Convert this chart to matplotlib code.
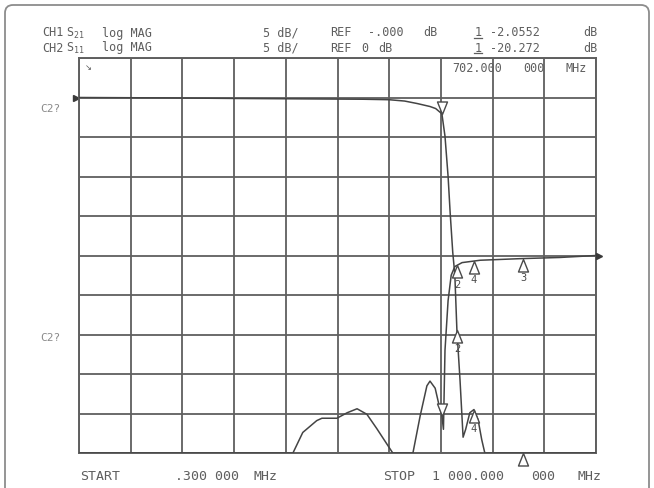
import numpy as np
import matplotlib
matplotlib.use("Agg")
import matplotlib.pyplot as plt
from matplotlib.path import Path
from matplotlib.patches import FancyBboxPatch
from matplotlib.lines import Line2D
import matplotlib.transforms as mtransforms

plt.rcParams['font.family'] = ['DejaVu Sans Mono', 'DejaVu Sans']
plt.rcParams['mathtext.fontset'] = 'custom'
plt.rcParams['mathtext.rm'] = 'DejaVu Sans Mono'
plt.rcParams['mathtext.it'] = 'DejaVu Sans Mono'
plt.rcParams['mathtext.bf'] = 'DejaVu Sans Mono'

# ---------------- data ----------------
start_mhz = 0.3
stop_mhz = 1000.0
db_per_div = 5
s21_ref_db = 0.0     # reference line 1 division below top
s11_ref_db = 0.0     # reference line at centre

s21_freq = [0.3, 170, 300, 450, 550, 600, 630, 654, 679, 690, 702, 708, 714, 718,
            723, 727, 731, 737, 743, 748, 756, 764, 772, 779, 785, 795, 850, 1000]
s21_db = [0.0, -0.05, -0.12, -0.18, -0.22, -0.28, -0.45, -0.76, -1.14, -1.4, -2.06,
          -4.9, -10.0, -14.6, -19.6, -22.4, -29.4, -35.7, -43.0, -42.0, -39.9, -39.5,
          -40.8, -43.3, -45.0, -48.0, -52.0, -55.0]

s11_freq = [0.3, 100, 200, 300, 400, 414, 433, 460, 470, 499, 519, 538, 557, 576,
            596, 607, 625, 646, 660, 673, 679, 689, 696, 702, 705, 708, 714, 720,
            727, 741, 776, 853, 930, 1000]
s11_db = [-30, -32, -33, -31, -27, -25.2, -22.4, -20.9, -20.6, -20.6, -19.9, -19.4,
          -20.1, -21.9, -23.9, -25.2, -27, -25.2, -20.3, -16.5, -15.9, -16.8, -18.8,
          -20.27, -22.0, -12.0, -5.7, -2.5, -1.4, -0.9, -0.6, -0.4, -0.25, 0.0]

marker_freq = [702, 731, 764, 859]
marker_names = ['1', '2', '4', '3']

hdr1 = ["CH1", r"S$_{21}$", "log MAG", "5 dB/", "REF", "-.000", "dB", "-2.0552", "dB"]
hdr2 = ["CH2", r"S$_{11}$", "log MAG", "5 dB/", "REF", "0", "dB", "-20.272", "dB"]
marker_readout = ["702.000", "000", "MHz"]
start_label = ["START", ".300 000", "MHz"]
stop_label = ["STOP", "1 000.000", "000", "MHz"]
side_label = "C2?"

# ---------------- style ----------------
W, H = 654, 489
grid_c = '#5f5f5f'
trace_c = '#444444'
text_c = '#5e5e5e'
fs = 8.5

fig = plt.figure(figsize=(W / 100, H / 100), dpi=100)
fig.patch.set_facecolor('white')

def px(x, y):
    return x / W, 1 - y / H

# outer rounded frame
frame = FancyBboxPatch((0.05, -0.2), 6.44, 5.03,
                       boxstyle="round,pad=0,rounding_size=0.08",
                       transform=fig.dpi_scale_trans, fill=False,
                       edgecolor='#8c8c8c', lw=1.3)
fig.patches.append(frame)

L, T, R, B = 79, 59, 596, 454
ax = fig.add_axes([L / W, 1 - B / H, (R - L) / W, (B - T) / H])
ax.set_xlim(start_mhz, stop_mhz)
s21_top = s21_ref_db + 1 * db_per_div
s21_bot = s21_top - 10 * db_per_div
ax.set_ylim(s21_bot, s21_top)
ax.set_xticks(np.linspace(start_mhz, stop_mhz, 11))
ax.set_yticks(np.linspace(s21_bot, s21_top, 11))
ax.tick_params(length=0, labelbottom=False, labelleft=False)
ax.grid(True, color=grid_c, lw=1.3)
for sp in ax.spines.values():
    sp.set_color(grid_c)
    sp.set_linewidth(1.4)
ax.set_axisbelow(True)

ax2 = ax.twinx()
s11_top = s11_ref_db + 5 * db_per_div
s11_bot = s11_ref_db - 5 * db_per_div
ax2.set_ylim(s11_bot, s11_top)
ax2.set_yticks([])
ax2.tick_params(length=0, labelright=False)
for sp in ax2.spines.values():
    sp.set_visible(False)

ax.plot(s21_freq, np.clip(s21_db, s21_bot, s21_top), color=trace_c, lw=1.1, zorder=3)
ax2.plot(s11_freq, np.clip(s11_db, s11_bot, s11_top), color=trace_c, lw=1.1, zorder=3)

# reference position indicators
ax.plot([start_mhz], [s21_ref_db], marker='>', ms=5, color='#3a3a3a', clip_on=False,
        transform=mtransforms.offset_copy(ax.transData, fig=fig, x=-3, y=0, units='dots'))
ax2.plot([stop_mhz], [s11_ref_db], marker='>', ms=5, color='#3a3a3a', clip_on=False,
         transform=mtransforms.offset_copy(ax2.transData, fig=fig, x=3, y=0, units='dots'))

# markers
down_tri = Path([(0, 0), (-0.4, 1), (0.4, 1), (0, 0)],
                [Path.MOVETO, Path.LINETO, Path.LINETO, Path.CLOSEPOLY])
up_tri = Path([(0, 0), (0.4, -1), (-0.4, -1), (0, 0)],
              [Path.MOVETO, Path.LINETO, Path.LINETO, Path.CLOSEPOLY])

for axis, fr, db, lo in [(ax, s21_freq, s21_db, s21_bot), (ax2, s11_freq, s11_db, s11_bot)]:
    for f, name in zip(marker_freq, marker_names):
        v = float(np.interp(f, fr, db))
        if name == '1':
            axis.plot([f], [v], marker=down_tri, ms=18, mfc='white', mec='#4a4a4a',
                      mew=1.0, zorder=5, clip_on=False)
        else:
            vv = max(v, lo)
            axis.plot([f], [vv], marker=up_tri, ms=18, mfc='white', mec='#4a4a4a',
                      mew=1.0, zorder=5, clip_on=False)
            if v >= lo:
                axis.annotate(name, (f, vv), xytext=(0, -9.5), textcoords='offset points',
                              ha='center', va='top', fontsize=7.5, color='#4a4a4a', zorder=6)

# header texts
hx = [42, 66, 102, 263, 330, 368, 423, 490, 583]
hx2 = [42, 66, 102, 263, 330, 361, 378, 490, 583]
y1, y2 = 33, 48
for s, x in zip(hdr1, hx):
    fig.text(*px(x, y1), s, fontsize=fs, color=text_c, va='center', ha='left')
for s, x in zip(hdr2, hx2):
    fig.text(*px(x, y2), s, fontsize=fs, color=text_c, va='center', ha='left')
for y in (y1, y2):
    fig.text(*px(475, y), "1", fontsize=fs, color=text_c, va='center', ha='left')
    x0, y0 = px(474, y + 5.5)
    x1, _ = px(482, y + 5.5)
    fig.lines.append(Line2D([x0, x1], [y0, y0], transform=fig.transFigure,
                            color=text_c, lw=0.9))

for s, x in zip(marker_readout, [452, 523, 566]):
    fig.text(*px(x, 68), s, fontsize=fs, color=text_c, va='center', ha='left')
fig.text(*px(85, 68), "↘", fontsize=6, color='#555555', va='center', ha='left',
         family='DejaVu Sans')

fsb = 9.5
for s, x in zip(start_label, [80, 175, 254]):
    fig.text(*px(x, 477), s, fontsize=fsb, color=text_c, va='center', ha='left')
for s, x in zip(stop_label, [383, 432, 531, 578]):
    fig.text(*px(x, 477), s, fontsize=fsb, color=text_c, va='center', ha='left')

fig.text(*px(40, 109), side_label, fontsize=8, color='#8a8a8a', va='center', ha='left')
fig.text(*px(40, 338), side_label, fontsize=8, color='#8a8a8a', va='center', ha='left')

fig.savefig("out.png", dpi=100)
